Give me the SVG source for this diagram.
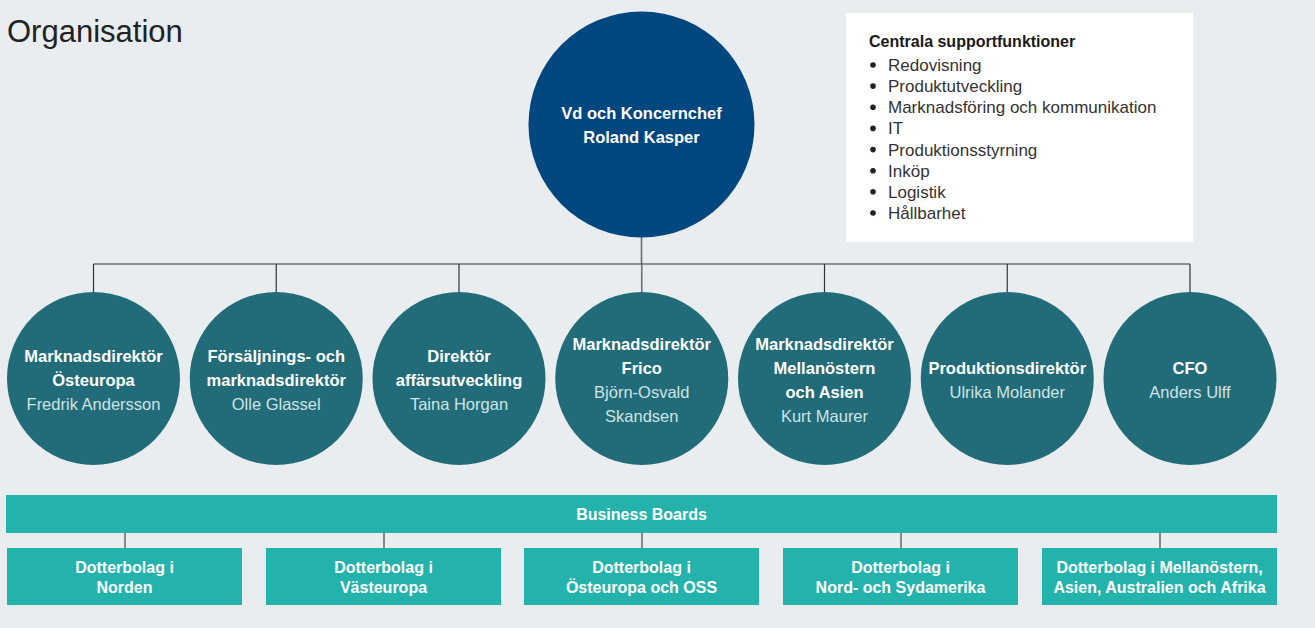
<svg xmlns="http://www.w3.org/2000/svg" width="1315" height="628" viewBox="0 0 1315 628">
<style>
text{font-family:"Liberation Sans",Arial,sans-serif}
.bg{fill:#e9edf0}
.ceo{fill:#00467f}
.dir{fill:#216c78}
.bb{fill:#23b3ac}
.t{font-size:16.5px;font-weight:bold;fill:#ffffff;text-anchor:middle}
.n{font-size:16.5px;fill:#cfe3e6;text-anchor:middle}
.bt{font-size:16px;font-weight:bold;fill:#ffffff;text-anchor:middle}
.li{font-size:17px;fill:#333333}
.conn{stroke:#333333;stroke-width:1.2;fill:none}
.conn2{stroke:#6e6e6e;stroke-width:1.6;fill:none}
</style>
<rect class="bg" x="0" y="0" width="1315" height="628"/>
<text x="7" y="42" style="font-size:31px;fill:#222222">Organisation</text>

<g id="connectors">
<line class="conn2" x1="641.5" y1="237" x2="641.5" y2="264"/>
<line class="conn" x1="93.5" y1="264" x2="1190" y2="264"/>
<line class="conn" x1="93.5" y1="264" x2="93.5" y2="292"/>
<line class="conn" x1="276.25" y1="264" x2="276.25" y2="292"/>
<line class="conn" x1="459" y1="264" x2="459" y2="292"/>
<line class="conn2" x1="641.75" y1="264" x2="641.75" y2="292"/>
<line class="conn" x1="824.5" y1="264" x2="824.5" y2="292"/>
<line class="conn" x1="1007.25" y1="264" x2="1007.25" y2="292"/>
<line class="conn" x1="1190" y1="264" x2="1190" y2="292"/>
<line class="conn2" x1="125" y1="533" x2="125" y2="548"/>
<line class="conn2" x1="384" y1="533" x2="384" y2="548"/>
<line class="conn2" x1="642" y1="533" x2="642" y2="548"/>
<line class="conn2" x1="901" y1="533" x2="901" y2="548"/>
<line class="conn2" x1="1160" y1="533" x2="1160" y2="548"/>
</g>

<g id="ceo">
<circle class="ceo" cx="641.5" cy="124.5" r="113"/>
<text class="t" x="641.5" y="119">Vd och Koncernchef</text>
<text class="t" x="641.5" y="143">Roland Kasper</text>
</g>

<g id="support">
<rect x="846" y="13" width="347" height="229" fill="#ffffff"/>
<text x="869" y="47" style="font-size:16px;font-weight:bold;fill:#1a1a1a">Centrala supportfunktioner</text>
<g fill="#222222">
<circle cx="873" cy="65" r="2.8"/><circle cx="873" cy="86.1" r="2.8"/><circle cx="873" cy="107.3" r="2.8"/><circle cx="873" cy="128.4" r="2.8"/>
<circle cx="873" cy="149.6" r="2.8"/><circle cx="873" cy="170.7" r="2.8"/><circle cx="873" cy="191.8" r="2.8"/><circle cx="873" cy="213" r="2.8"/>
</g>
<text class="li" x="888" y="71">Redovisning</text>
<text class="li" x="888" y="92.1">Produktutveckling</text>
<text class="li" x="888" y="113.3">Marknadsföring och kommunikation</text>
<text class="li" x="888" y="134.4">IT</text>
<text class="li" x="888" y="155.6">Produktionsstyrning</text>
<text class="li" x="888" y="176.7">Inköp</text>
<text class="li" x="888" y="197.8">Logistik</text>
<text class="li" x="888" y="219">Hållbarhet</text>
</g>

<g id="dir1">
<circle class="dir" cx="93.5" cy="378.5" r="86.5"/>
<text class="t" x="93.5" y="362">Marknadsdirektör</text>
<text class="t" x="93.5" y="386">Östeuropa</text>
<text class="n" x="93.5" y="410">Fredrik Andersson</text>
</g>
<g id="dir2">
<circle class="dir" cx="276.25" cy="378.5" r="86.5"/>
<text class="t" x="276.25" y="362">Försäljnings- och</text>
<text class="t" x="276.25" y="386">marknadsdirektör</text>
<text class="n" x="276.25" y="410">Olle Glassel</text>
</g>
<g id="dir3">
<circle class="dir" cx="459" cy="378.5" r="86.5"/>
<text class="t" x="459" y="362">Direktör</text>
<text class="t" x="459" y="386">affärsutveckling</text>
<text class="n" x="459" y="410">Taina Horgan</text>
</g>
<g id="dir4">
<circle class="dir" cx="641.75" cy="378.5" r="86.5"/>
<text class="t" x="641.75" y="350">Marknadsdirektör</text>
<text class="t" x="641.75" y="374">Frico</text>
<text class="n" x="641.75" y="398">Björn-Osvald</text>
<text class="n" x="641.75" y="422">Skandsen</text>
</g>
<g id="dir5">
<circle class="dir" cx="824.5" cy="378.5" r="86.5"/>
<text class="t" x="824.5" y="350">Marknadsdirektör</text>
<text class="t" x="824.5" y="374">Mellanöstern</text>
<text class="t" x="824.5" y="398">och Asien</text>
<text class="n" x="824.5" y="422">Kurt Maurer</text>
</g>
<g id="dir6">
<circle class="dir" cx="1007.25" cy="378.5" r="86.5"/>
<text class="t" x="1007.25" y="374">Produktionsdirektör</text>
<text class="n" x="1007.25" y="398">Ulrika Molander</text>
</g>
<g id="dir7">
<circle class="dir" cx="1190" cy="378.5" r="86.5"/>
<text class="t" x="1190" y="374">CFO</text>
<text class="n" x="1190" y="398">Anders Ulff</text>
</g>

<g id="business-boards">
<rect class="bb" x="6" y="495" width="1271" height="38"/>
<text class="bt" x="641.5" y="520">Business Boards</text>
</g>
<g id="sub1">
<rect class="bb" x="7" y="548" width="235" height="57"/>
<text class="bt" x="124.5" y="573">Dotterbolag i</text>
<text class="bt" x="124.5" y="593">Norden</text>
</g>
<g id="sub2">
<rect class="bb" x="266" y="548" width="235" height="57"/>
<text class="bt" x="383.5" y="573">Dotterbolag i</text>
<text class="bt" x="383.5" y="593">Västeuropa</text>
</g>
<g id="sub3">
<rect class="bb" x="524" y="548" width="235" height="57"/>
<text class="bt" x="641.5" y="573">Dotterbolag i</text>
<text class="bt" x="641.5" y="593">Östeuropa och OSS</text>
</g>
<g id="sub4">
<rect class="bb" x="783" y="548" width="235" height="57"/>
<text class="bt" x="900.5" y="573">Dotterbolag i</text>
<text class="bt" x="900.5" y="593">Nord- och Sydamerika</text>
</g>
<g id="sub5">
<rect class="bb" x="1042" y="548" width="235" height="57"/>
<text class="bt" x="1159.5" y="573">Dotterbolag i Mellanöstern,</text>
<text class="bt" x="1159.5" y="593">Asien, Australien och Afrika</text>
</g>
</svg>
